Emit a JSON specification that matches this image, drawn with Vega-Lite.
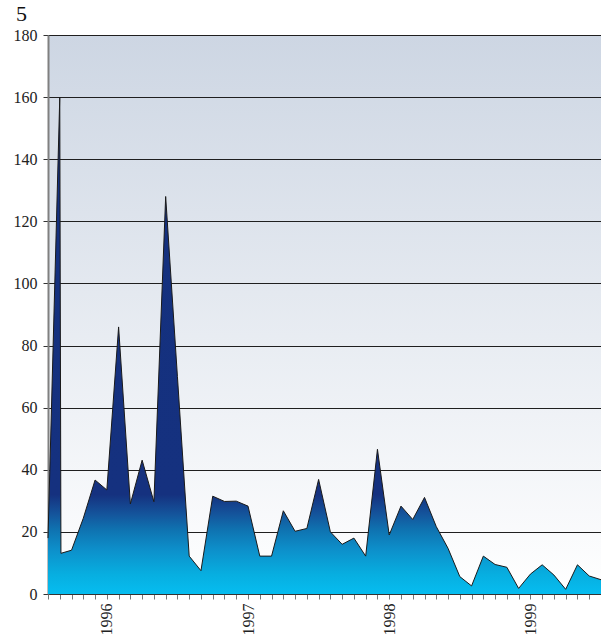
{
  "$schema": "https://vega.github.io/schema/vega-lite/v6.json",
  "width": 553,
  "height": 559,
  "autosize": "none",
  "padding": {"left": 48, "top": 35, "right": 0, "bottom": 46},
  "background": "white",
  "title": {"text": "5", "anchor": "start", "frame": "group", "dx": -32, "offset": 1, "fontSize": 22, "font": "Liberation Serif", "fontWeight": "normal", "color": "#111111"},
  "config": {
    "font": "Liberation Serif",
    "view": {"stroke": null, "fill": {"gradient": "linear", "x1": 0, "y1": 0, "x2": 0, "y2": 1, "stops": [{"offset": 0, "color": "#cdd6e3"}, {"offset": 1, "color": "#ffffff"}]}}
  },
  "data": {"values": [
    {"m": 0, "v": 18}, {"m": 1, "v": 160}, {"m": 1.1, "v": 13.1}, {"m": 2, "v": 14.1},
    {"m": 3, "v": 24.4}, {"m": 4, "v": 36.7}, {"m": 5, "v": 33.5}, {"m": 6, "v": 86},
    {"m": 7, "v": 29}, {"m": 8, "v": 43.1}, {"m": 9, "v": 29.7}, {"m": 10, "v": 128},
    {"m": 11, "v": 70}, {"m": 12, "v": 12.2}, {"m": 13, "v": 7.5}, {"m": 14, "v": 31.5},
    {"m": 15, "v": 29.8}, {"m": 16, "v": 29.9}, {"m": 17, "v": 28.3}, {"m": 18, "v": 12.2},
    {"m": 19, "v": 12.2}, {"m": 20, "v": 26.8}, {"m": 21, "v": 20.2}, {"m": 22, "v": 21.1},
    {"m": 23, "v": 36.9}, {"m": 24, "v": 20.0}, {"m": 25, "v": 16.0}, {"m": 26, "v": 18.0},
    {"m": 27, "v": 12.2}, {"m": 28, "v": 46.6}, {"m": 29, "v": 19.0}, {"m": 30, "v": 28.3},
    {"m": 31, "v": 24.0}, {"m": 32, "v": 31.1}, {"m": 33, "v": 21.7}, {"m": 34, "v": 14.7},
    {"m": 35, "v": 5.6}, {"m": 36, "v": 2.6}, {"m": 37, "v": 12.2}, {"m": 38, "v": 9.5},
    {"m": 39, "v": 8.6}, {"m": 40, "v": 1.8}, {"m": 41, "v": 6.4}, {"m": 42, "v": 9.4},
    {"m": 43, "v": 6.1}, {"m": 44, "v": 1.5}, {"m": 45, "v": 9.4}, {"m": 46, "v": 5.8},
    {"m": 47, "v": 4.6}
  ]},
  "encoding": {
    "x": {"field": "m", "type": "quantitative",
      "scale": {"domain": [0, 47], "nice": false, "zero": false},
      "axis": {
        "values": [0,1,2,3,4,5,6,7,8,9,10,11,12,13,14,15,16,17,18,19,20,21,22,23,24,25,26,27,28,29,30,31,32,33,34,35,36,37,38,39,40,41,42,43,44,45,46],
        "labelExpr": "datum.value % 12 == 5 ? '' + (1996 + (datum.value - 5) / 12) : ''",
        "labelAngle": -90, "labelAlign": "right", "labelBaseline": "middle",
        "labelOverlap": false, "labelPadding": 4, "labelFontSize": 16, "labelFont": "Liberation Serif", "labelColor": "#222222",
        "tickSize": 5, "tickColor": "#777777", "tickWidth": 1,
        "domainColor": "#333333", "domainWidth": 1, "grid": false, "title": null
      }
    },
    "y": {"field": "v", "type": "quantitative",
      "scale": {"domain": [0, 180], "nice": false},
      "axis": {
        "values": [0, 20, 40, 60, 80, 100, 120, 140, 160, 180],
        "grid": true, "gridColor": "#1f1f1f", "gridWidth": 1, "gridOpacity": 1,
        "domainColor": "#808080", "domainWidth": 2,
        "tickColor": "#333333", "tickSize": 5, "tickWidth": 1,
        "labelFontSize": 16, "labelFont": "Liberation Serif", "labelColor": "#222222", "labelPadding": 6,
        "title": null
      }
    }
  },
  "layer": [
    {"mark": {"type": "area", "opacity": 1, "fill": {"gradient": "linear", "x1": 0, "y1": 0, "x2": 0, "y2": 1, "stops": [
      {"offset": 0, "color": "#14307e"},
      {"offset": 0.80, "color": "#15317f"},
      {"offset": 0.84, "color": "#14559c"},
      {"offset": 0.87, "color": "#0f72b0"},
      {"offset": 0.91, "color": "#0d8fca"},
      {"offset": 0.96, "color": "#07aee0"},
      {"offset": 1, "color": "#06bdf0"}
    ]}}},
    {"mark": {"type": "line", "color": "#1a1a1a", "strokeWidth": 1}}
  ]
}
